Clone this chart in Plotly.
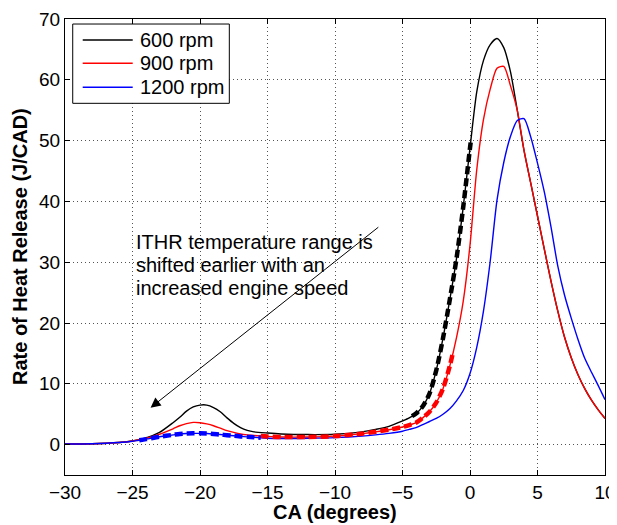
import numpy as np
import plotly.graph_objects as go

# Crank angle (degrees)
CA = [-30, -28, -26, -25, -24, -23, -22, -21.5, -21, -20.5, -20, -19.5, -19, -18.5, -18,
      -17.5, -17, -16.5, -16, -15, -14, -12, -10, -8, -7, -6, -5, -4.5, -4, -3.5, -3,
      -2.5, -2, -1.5, -1, -0.5, 0, 0.5, 1, 1.5, 2, 2.5, 3, 3.5, 4, 4.5, 5, 5.5, 6,
      6.5, 7, 7.5, 8, 8.5, 9, 9.5, 10]

# Rate of heat release (J/CAD)
RHR_600 = [0.1, 0.15, 0.35, 0.6, 1.1, 2.0, 3.6, 4.5, 5.5, 6.2, 6.5, 6.5, 6.1, 5.4, 4.4,
           3.5, 2.8, 2.35, 2.1, 1.9, 1.75, 1.65, 1.7, 2.1, 2.5, 3.0, 3.9, 4.4, 5.1, 6.3, 8.4,
           12.2, 17.5, 23.8, 30.6, 39.1, 48.8, 58.0, 63.2, 65.8, 66.8, 65.3, 61.3, 55.0, 48.4,
           43.0, 37.6, 32.2, 26.9, 22.0, 17.7, 14.3, 11.5, 9.2, 7.3, 5.7, 4.3]
RHR_900 = [0.1, 0.15, 0.35, 0.6, 1.0, 1.7, 2.6, 3.1, 3.45, 3.65, 3.6, 3.4, 3.1, 2.7, 2.3,
           2.0, 1.75, 1.6, 1.5, 1.35, 1.25, 1.25, 1.4, 1.8, 2.1, 2.45, 2.9, 3.2, 3.6, 4.4, 5.4,
           6.9, 9.2, 12.9, 17.6, 23.6, 32.8, 45.2, 53.5, 58.5, 61.9, 62.2, 59.0, 55.0, 48.4,
           43.0, 37.6, 32.2, 26.9, 22.0, 17.7, 14.3, 11.5, 9.2, 7.3, 5.7, 4.3]
RHR_1200 = [0.1, 0.15, 0.35, 0.55, 0.9, 1.3, 1.6, 1.75, 1.82, 1.85, 1.85, 1.82, 1.75, 1.65, 1.55,
            1.45, 1.35, 1.27, 1.2, 1.05, 1.0, 1.05, 1.15, 1.4, 1.6, 1.85, 2.2, 2.5, 2.8, 3.3, 3.8,
            4.3, 5.0, 5.9, 7.2, 8.9, 11.7, 16.0, 22.0, 30.2, 40.2, 46.4, 50.7, 53.3, 53.6,
            50.6, 46.3, 41.6, 35.8, 29.4, 24.6, 20.8, 17.3, 14.2, 11.9, 9.7, 7.4]

SERIES = ["600 rpm", "900 rpm", "1200 rpm"]
COLORS = ["#000000", "#ff0000", "#0000ff"]
# ITHR (intermediate temperature heat release) crank-angle ranges
ITHR_START = [-4.3, -15.5, -24.5]
ITHR_END = [0.05, -1.3, -15.5]

X_TICKS = [-30, -25, -20, -15, -10, -5, 0, 5, 10]
Y_TICKS = [0, 10, 20, 30, 40, 50, 60, 70]

X_TITLE = "CA (degrees)"
Y_TITLE = "Rate of Heat Release (J/CAD)"
ANNOT_LINES = ["ITHR temperature range is", "shifted earlier with an", "increased engine speed"]

ys_all = [RHR_600, RHR_900, RHR_1200]
fig = go.Figure()
ca = np.array(CA, dtype=float)

for name, col, ys in zip(SERIES, COLORS, ys_all):
    fig.add_trace(go.Scatter(x=CA, y=ys, mode="lines", name=name, showlegend=False,
                             line=dict(color=col, width=1.4, shape="spline", smoothing=0.7)))

for col, ys, s, e in zip(COLORS, ys_all, ITHR_START, ITHR_END):
    yv = np.array(ys, dtype=float)
    inside = (ca > s) & (ca < e)
    xs = np.concatenate([[s], ca[inside], [e]])
    yy = np.interp(xs, ca, yv)
    fig.add_trace(go.Scatter(x=xs, y=yy, mode="lines", showlegend=False, hoverinfo="skip",
                             line=dict(color=col, width=4.5, dash="8px,4px",
                                       shape="spline", smoothing=0.7)))

font_family = "Liberation Sans, Arial, sans-serif"

# legend box (drawn in paper coordinates, upper-left of the axes)
fig.add_shape(type="rect", xref="paper", yref="paper", x0=0.0143, x1=0.3043,
              y0=0.8151, y1=0.9890, line=dict(color="black", width=1), fillcolor="white",
              layer="above")
leg_rows = [0.9540, 0.9029, 0.8502]
for name, col, ry in zip(SERIES, COLORS, leg_rows):
    fig.add_shape(type="line", xref="paper", yref="paper", x0=0.0328, x1=0.1254,
                  y0=ry, y1=ry, line=dict(color=col, width=1.4), layer="above")
    fig.add_annotation(x=0.1357, y=ry, xref="paper", yref="paper", text=name,
                       showarrow=False, xanchor="left", yanchor="middle",
                       font=dict(family=font_family, size=20, color="black"))

# annotation text lines
line_y = [33.4, 29.6, 25.75]
for txt, yv in zip(ANNOT_LINES, line_y):
    fig.add_annotation(x=-24.9, y=yv, xref="x", yref="y", text=txt, showarrow=False,
                       xanchor="left", yanchor="middle",
                       font=dict(family=font_family, size=20, color="black"))

# arrow
fig.add_annotation(x=-23.66, y=6.07, ax=-6.68, ay=35.95, xref="x", yref="y",
                   axref="x", ayref="y", text="", showarrow=True,
                   arrowhead=2, arrowsize=2.0, arrowwidth=1, arrowcolor="black", standoff=0)

# axis titles
fig.add_annotation(x=0.5, y=-0.0811, xref="paper", yref="paper", text="<b>" + X_TITLE + "</b>",
                   showarrow=False, xanchor="center", yanchor="middle",
                   font=dict(family=font_family, size=20, color="black"))
fig.add_annotation(x=-0.0833, y=0.5, xref="paper", yref="paper", text="<b>" + Y_TITLE + "</b>",
                   showarrow=False, xanchor="center", yanchor="middle", textangle=-90,
                   font=dict(family=font_family, size=20, color="black"))

axis_common = dict(showline=True, linecolor="black", linewidth=1, mirror="ticks",
                   ticks="inside", ticklen=5, tickcolor="black", showgrid=True,
                   gridcolor="#555555", griddash="1px,3px", gridwidth=1, zeroline=False,
                   automargin=False, ticklabeloverflow="allow",
                   tickfont=dict(family=font_family, size=19, color="black"))

fig.update_xaxes(range=[-30, 10], tickvals=X_TICKS, **axis_common)
fig.update_yaxes(range=[-5, 70], tickvals=Y_TICKS, **axis_common)

# page body has an 8px margin: figure is sized so it fills the 617x525 window
fig.update_layout(
    width=609, height=517,
    margin=dict(l=57, r=12, t=11, b=50),
    plot_bgcolor="white", paper_bgcolor="white",
    showlegend=False,
)

fig.write_html("out.html")
